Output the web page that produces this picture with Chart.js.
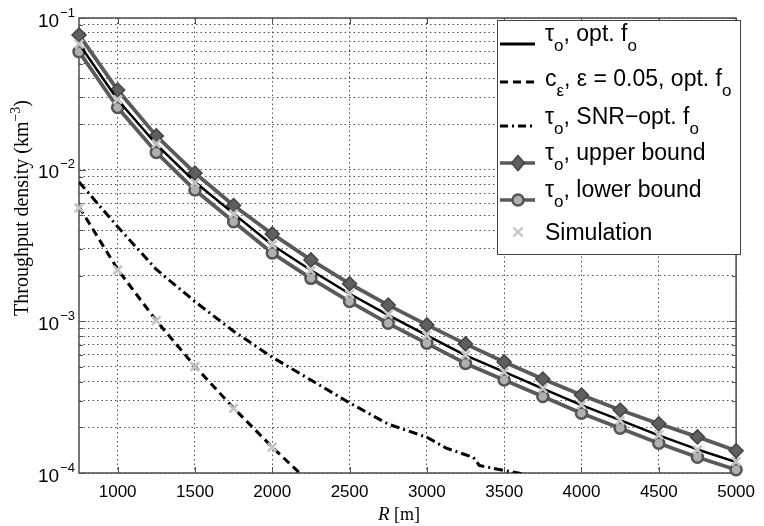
<!DOCTYPE html>
<html><head><meta charset="utf-8">
<script src="https://cdn.jsdelivr.net/npm/chart.js@4"></script>
<style>html,body{margin:0;padding:0;background:#fff}#wrap{width:764px;height:526px}</style>
</head><body><div id="wrap"><canvas id="c" width="764" height="526"></canvas></div>
<script>
// ---- data ----
const radiusR = [750,1000,1250,1500,1750,2000,2250,2500,2750,3000,3250,3500,3750,4000,4250,4500,4750,5000];
const tauOpt = [0.0677,0.0289,0.0147,0.0083,0.00513,0.00319,0.00217,0.00152,0.00110,0.000809,0.000597,0.000464,0.000360,0.000280,0.000223,0.000177,0.000143,0.000118];
const tauUpper = [0.0773,0.0335,0.0167,0.0095,0.0058,0.00377,0.00254,0.00177,0.00128,0.000947,0.00071,0.00054,0.000417,0.000327,0.00026,0.000211,0.000173,0.00014];
const tauLower = [0.0600,0.0257,0.0130,0.00734,0.00454,0.00282,0.00192,0.00135,0.00097,0.000716,0.000528,0.000411,0.000319,0.000248,0.000197,0.000157,0.000127,0.000105];
const cEpsR = [750,1000,1250,1500,1750,2000,2250];
const cEps = [0.0057,0.0022,0.00101,0.000505,0.000268,0.000148,0.000085];
const snrR = [750,1000,1250,1500,1750,2000,2250,2500,2750,3000,3125,3250,3300,3340,3500,3600,3750];
const snrOpt = [0.0083,0.0042,0.0022,0.00135,0.00086,0.00058,0.00041,0.00029,0.00021,0.000172,0.000146,0.000132,0.000127,0.000112,0.000104,0.0000995,0.00009];
const simR = [750,1000,1250,1500,1750,2000,2250,2500,2750,3000,3250,3500,3750,4000,4250,4500,4750,5000,750,1000,1250,1500,1750,2000];
const simY = [0.0672,0.0290,0.0148,0.0082,0.0051,0.00320,0.00216,0.00151,0.00111,0.000805,0.000600,0.000462,0.000361,0.000281,0.000222,0.000178,0.000142,0.000119,0.0056,0.00218,0.00101,0.000504,0.000267,0.000148];
const xTicks = [1000,1500,2000,2500,3000,3500,4000,4500,5000];
const yDecades = [-4,-3,-2,-1];
const seriesNames = ['τo, opt. fo','cε, ε = 0.05, opt. fo','τo, SNR−opt. fo','τo, upper bound','τo, lower bound','Simulation'];
const yTitle = 'Throughput density (km−3)';

const pts = (xs, ys) => xs.map((x, i) => ({x: x, y: ys[i]}));
const SANS = '"Liberation Sans", Arial, Helvetica, sans-serif';
const SERIF = '"Liberation Serif", "Times New Roman", serif';
const BOUND = '#5a5a5a';
const SIM = '#c4c4c4';

function yGridValues() {
  const v = [];
  for (let e = -4; e < -1; e++) for (let m = 1; m <= 9; m++) v.push(m * Math.pow(10, e));
  v.push(0.1);
  return v;
}

function richText(ctx, x, y, parts, size, subSize, subDy) {
  let cx = x;
  for (const [t, sub] of parts) {
    ctx.font = (sub ? subSize : size) + 'px ' + SANS;
    ctx.fillText(t, cx, sub ? y + subDy : y);
    cx += ctx.measureText(t).width;
  }
}

const decorPlugin = {
  id: 'decor',
  beforeDatasetsDraw(chart) {
    const {ctx, chartArea: a, scales} = chart;
    ctx.save();
    ctx.strokeStyle = '#505050';
    ctx.lineWidth = 1;
    ctx.beginPath();
    for (const t of xTicks) {
      const px = Math.round(scales.x.getPixelForValue(t)) + 0.5;
      ctx.moveTo(px, a.bottom); ctx.lineTo(px, a.bottom - 6);
      ctx.moveTo(px, a.top); ctx.lineTo(px, a.top + 6);
    }
    for (const v of yGridValues()) {
      const py = Math.round(scales.y.getPixelForValue(v)) + 0.5;
      const major = Math.abs(Math.log10(v) - Math.round(Math.log10(v))) < 1e-9;
      const len = major ? 7 : 4;
      ctx.moveTo(a.left, py); ctx.lineTo(a.left + len, py);
      ctx.moveTo(a.right, py); ctx.lineTo(a.right - len, py);
    }
    ctx.stroke();
    ctx.lineWidth = 1.6;
    ctx.strokeStyle = '#555';
    ctx.strokeRect(a.left, a.top, a.right - a.left, a.bottom - a.top);
    ctx.restore();
  },
  afterDraw(chart) {
    const {ctx, chartArea: a, scales} = chart;
    ctx.save();
    ctx.fillStyle = '#000';
    ctx.textBaseline = 'alphabetic';
    for (const d of yDecades) {
      const py = scales.y.getPixelForValue(Math.pow(10, d));
      ctx.font = '13px ' + SANS;
      const exp = '−' + (-d);
      const ew = ctx.measureText(exp).width;
      ctx.textAlign = 'left';
      ctx.fillText(exp, 75 - ew, py - 1.5);
      ctx.font = '19px ' + SANS;
      ctx.textAlign = 'right';
      ctx.fillText('10', 75 - ew - 1, py + 8.5);
    }
    ctx.save();
    ctx.translate(28, 208);
    ctx.rotate(-Math.PI / 2);
    ctx.textAlign = 'left';
    const base = 'Throughput density (km';
    ctx.font = '20px ' + SERIF;
    const w1 = ctx.measureText(base).width;
    ctx.font = '14px ' + SERIF;
    const w2 = ctx.measureText('−3').width;
    ctx.font = '20px ' + SERIF;
    const w3 = ctx.measureText(')').width;
    let sx = -(w1 + w2 + w3) / 2;
    ctx.fillText(base, sx, 0);
    ctx.font = '14px ' + SERIF;
    ctx.fillText('−3', sx + w1, -8);
    ctx.font = '20px ' + SERIF;
    ctx.fillText(')', sx + w1 + w2, 0);
    ctx.restore();
    ctx.textAlign = 'left';
    ctx.font = 'italic 19px ' + SERIF;
    const rw = ctx.measureText('R').width;
    ctx.font = '18px ' + SERIF;
    const mw = ctx.measureText(' [m]').width;
    const xs = 399 - (rw + mw) / 2;
    ctx.font = 'italic 19px ' + SERIF;
    ctx.fillText('R', xs, 520);
    ctx.font = '18px ' + SERIF;
    ctx.fillText(' [m]', xs + rw, 520);

    const L = 497, T = 20, R = 740, B = 254;
    ctx.fillStyle = '#fff';
    ctx.fillRect(L, T, R - L, B - T);
    ctx.strokeStyle = '#444';
    ctx.lineWidth = 1;
    ctx.strokeRect(L + 0.5, T + 0.5, R - L, B - T);
    const x0 = 500, x1 = 535, mx = 518, tx = 545;
    const rows = [
      {ly: 44, ty: 41, parts: [['τ', 0], ['o', 1], [', opt. f', 0], ['o', 1]]},
      {ly: 82, ty: 86, parts: [['c', 0], ['ε', 1], [', ε = 0.05, opt. f', 0], ['o', 1]]},
      {ly: 126, ty: 124, parts: [['τ', 0], ['o', 1], [', SNR−opt. f', 0], ['o', 1]]},
      {ly: 163, ty: 160, parts: [['τ', 0], ['o', 1], [', upper bound', 0]]},
      {ly: 200, ty: 197, parts: [['τ', 0], ['o', 1], [', lower bound', 0]]},
      {ly: 232, ty: 240, parts: [['Simulation', 0]]}
    ];
    ctx.lineCap = 'butt';
    ctx.strokeStyle = '#000'; ctx.lineWidth = 3; ctx.setLineDash([]);
    ctx.beginPath(); ctx.moveTo(x0, rows[0].ly); ctx.lineTo(x1, rows[0].ly); ctx.stroke();
    ctx.setLineDash([8, 5]);
    ctx.beginPath(); ctx.moveTo(x0, rows[1].ly); ctx.lineTo(x1, rows[1].ly); ctx.stroke();
    ctx.setLineDash([8, 4, 2, 4]);
    ctx.beginPath(); ctx.moveTo(x0, rows[2].ly); ctx.lineTo(x1, rows[2].ly); ctx.stroke();
    ctx.setLineDash([]);
    ctx.strokeStyle = BOUND; ctx.lineWidth = 3.5;
    ctx.beginPath(); ctx.moveTo(x0, rows[3].ly); ctx.lineTo(x1, rows[3].ly); ctx.stroke();
    ctx.fillStyle = '#5f5f5f'; ctx.strokeStyle = '#444'; ctx.lineWidth = 1.5;
    ctx.beginPath(); ctx.moveTo(mx, rows[3].ly - 7.5); ctx.lineTo(mx + 6.5, rows[3].ly); ctx.lineTo(mx, rows[3].ly + 7.5); ctx.lineTo(mx - 6.5, rows[3].ly); ctx.closePath(); ctx.fill(); ctx.stroke();
    ctx.strokeStyle = BOUND; ctx.lineWidth = 3.5;
    ctx.beginPath(); ctx.moveTo(x0, rows[4].ly); ctx.lineTo(x1, rows[4].ly); ctx.stroke();
    ctx.fillStyle = '#b0b0b0'; ctx.strokeStyle = '#555'; ctx.lineWidth = 2.5;
    ctx.beginPath(); ctx.arc(mx, rows[4].ly, 5.5, 0, Math.PI * 2); ctx.fill(); ctx.stroke();
    ctx.strokeStyle = SIM; ctx.lineWidth = 2.4;
    ctx.beginPath();
    ctx.moveTo(mx - 4.5, rows[5].ly - 4.5); ctx.lineTo(mx + 4.5, rows[5].ly + 4.5);
    ctx.moveTo(mx + 4.5, rows[5].ly - 4.5); ctx.lineTo(mx - 4.5, rows[5].ly + 4.5);
    ctx.stroke();
    ctx.fillStyle = '#000';
    ctx.textAlign = 'left';
    for (const r of rows) richText(ctx, tx, r.ty, r.parts, 23, 17, 10);
    ctx.restore();
  }
};

const chart = new Chart(document.getElementById('c'), {
  type: 'line',
  data: {
    datasets: [
      {label: seriesNames[3], data: pts(radiusR, tauUpper), borderColor: BOUND, borderWidth: 3.8, order: 5,
       pointStyle: 'rectRot', pointRadius: 7, pointBackgroundColor: '#5f5f5f', pointBorderColor: '#444', pointBorderWidth: 1.5, clip: false},
      {label: seriesNames[4], data: pts(radiusR, tauLower), borderColor: BOUND, borderWidth: 3.8, order: 4,
       pointStyle: 'circle', pointRadius: 5.5, pointBackgroundColor: '#b0b0b0', pointBorderColor: '#555', pointBorderWidth: 2.5, clip: false},
      {label: seriesNames[0], data: pts(radiusR, tauOpt), borderColor: '#000', borderWidth: 2.5, pointRadius: 0, order: 3},
      {label: seriesNames[1], data: pts(cEpsR, cEps), borderColor: '#000', borderWidth: 3, borderDash: [8, 5], pointRadius: 0, clip: 0, order: 2},
      {label: seriesNames[2], data: pts(snrR, snrOpt), borderColor: '#000', borderWidth: 3, borderDash: [9, 4, 2, 4], pointRadius: 0, clip: 0, order: 1},
      {label: seriesNames[5], data: pts(simR, simY), showLine: false, pointStyle: 'crossRot', pointRadius: 6, order: 0,
       pointBorderColor: SIM, pointBorderWidth: 2.6, borderColor: SIM, clip: false}
    ]
  },
  options: {
    responsive: false,
    animation: false,
    devicePixelRatio: 1,
    layout: {padding: {left: 0, right: 22, top: 18, bottom: 0}},
    plugins: {legend: {display: false}, tooltip: {enabled: false}},
    elements: {line: {tension: 0, borderCapStyle: 'butt', borderJoinStyle: 'round'}},
    scales: {
      x: {
        type: 'linear', min: 750, max: 5000,
        afterBuildTicks: s => { s.ticks = xTicks.map(v => ({value: v})); },
        afterFit: s => { s.height = 53; },
        grid: {color: '#505050', lineWidth: 1, drawTicks: false},
        border: {display: false, dash: [1.5, 3]},
        ticks: {color: '#000', font: {family: SANS, size: 17}, padding: 9, maxRotation: 0, autoSkip: false,
                callback: v => String(v)}
      },
      y: {
        type: 'logarithmic', min: 1e-4, max: 1e-1,
        afterBuildTicks: s => { s.ticks = yGridValues().map(v => ({value: v})); },
        afterFit: s => { s.width = 79; },
        grid: {color: '#505050', lineWidth: 1, drawTicks: false},
        border: {display: false, dash: [1.5, 3]},
        ticks: {display: false, autoSkip: false}
      }
    }
  },
  plugins: [decorPlugin]
});
</script></body></html>
